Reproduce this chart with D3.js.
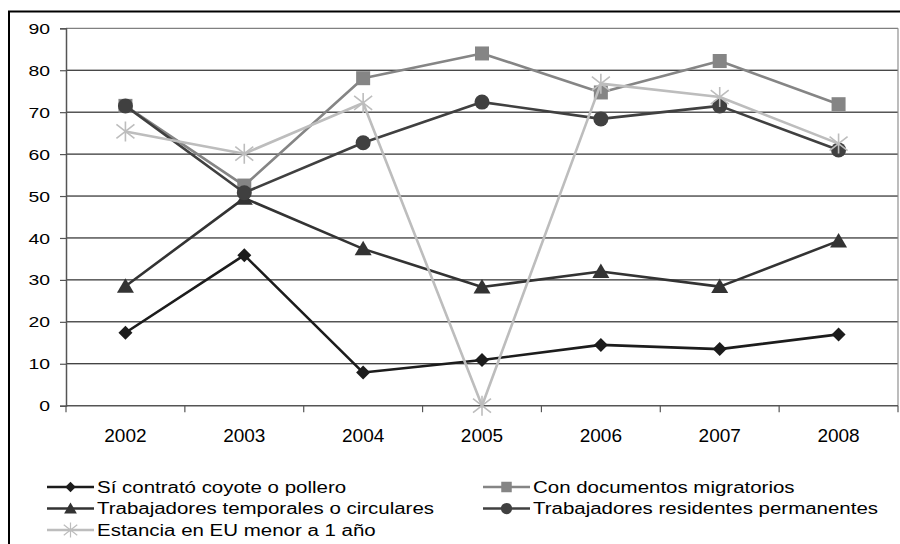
<html>
<head>
<meta charset="utf-8">
<script src="https://cdn.jsdelivr.net/npm/d3@7/dist/d3.min.js"></script>
<style>
  body { margin: 0; background: #fff; }
  svg { display: block; font-family: "Liberation Sans", Arial, sans-serif; }
</style>
</head>
<body>
<svg id="chart"></svg>
<script>
// categories and series
var years = ["2002", "2003", "2004", "2005", "2006", "2007", "2008"];
var yTicks = [0, 10, 20, 30, 40, 50, 60, 70, 80, 90];

var coyote      = [17.4, 35.9, 7.9, 10.9, 14.5, 13.5, 17.0];
var documentos  = [71.5, 52.5, 78.1, 84.0, 74.7, 82.2, 71.9];
var temporales  = [28.5, 49.5, 37.4, 28.3, 32.0, 28.4, 39.3];
var residentes  = [71.5, 50.8, 62.7, 72.4, 68.4, 71.5, 61.0];
var estancia    = [65.4, 60.1, 72.2, 0.0, 76.8, 73.6, 62.5];

var seriesNames = [
  "Sí contrató coyote o pollero",
  "Con documentos migratorios",
  "Trabajadores temporales o circulares",
  "Trabajadores residentes permanentes",
  "Estancia en EU menor a 1 año"
];

var series = [
  {name: seriesNames[0], values: coyote,     color: "#1c1c1c", marker: "diamond"},
  {name: seriesNames[1], values: documentos, color: "#858585", marker: "square"},
  {name: seriesNames[2], values: temporales, color: "#333333", marker: "triangle"},
  {name: seriesNames[3], values: residentes, color: "#404040", marker: "circle"},
  {name: seriesNames[4], values: estancia,   color: "#bdbdbd", marker: "star"}
];

var W = 900, H = 544;
var plot = {left: 66, right: 898, top: 28.3, bottom: 405.7};

var svg = d3.select("#chart").attr("width", W).attr("height", H);

svg.append("rect").attr("width", W).attr("height", H).attr("fill", "#fff");

// outer frame (runs off the right and bottom edges)
svg.append("rect")
  .attr("x", 9).attr("y", 11.5)
  .attr("width", 1000).attr("height", 1000)
  .attr("fill", "none").attr("stroke", "#000").attr("stroke-width", 2);

var x = d3.scaleBand().domain(years).range([plot.left, plot.right]).padding(0);
var y = d3.scaleLinear().domain([0, 90]).range([plot.bottom, plot.top]);

// gridlines
svg.append("g").selectAll("line")
  .data(yTicks.filter(function(d){ return d > 0 && d < 90; }))
  .enter().append("line")
  .attr("x1", plot.left).attr("x2", plot.right)
  .attr("y1", function(d){ return y(d); })
  .attr("y2", function(d){ return y(d); })
  .attr("stroke", "#000").attr("stroke-width", 1);

// plot border top/right (gray)
svg.append("line")
  .attr("x1", plot.left).attr("x2", plot.right)
  .attr("y1", y(90)).attr("y2", y(90))
  .attr("stroke", "#808080").attr("stroke-width", 1.2);
svg.append("line")
  .attr("x1", plot.right).attr("x2", plot.right)
  .attr("y1", y(90)).attr("y2", y(0))
  .attr("stroke", "#909090").attr("stroke-width", 1.2);

// y axis
var yAxis = d3.axisLeft(y).tickValues(yTicks).tickSize(6).tickFormat("");
var gY = svg.append("g").attr("transform", "translate(" + plot.left + ",0)").call(yAxis);
gY.select(".domain").attr("stroke", "#555").attr("stroke-width", 1.5);
gY.selectAll(".tick line").attr("stroke", "#555").attr("stroke-width", 1.2);

svg.append("g").selectAll("text")
  .data(yTicks).enter().append("text")
  .attr("transform", function(d){ return "translate(50," + y(d) + ") scale(1.25,1)"; })
  .attr("text-anchor", "end")
  .attr("dy", "0.36em")
  .attr("font-size", "15.5px")
  .attr("fill", "#000")
  .text(function(d){ return d; });

// x axis
svg.append("line")
  .attr("x1", plot.left).attr("x2", plot.right)
  .attr("y1", y(0)).attr("y2", y(0))
  .attr("stroke", "#555").attr("stroke-width", 1.5);

var bounds = years.map(function(d){ return x(d); }).concat([plot.right]);
svg.append("g").selectAll("line")
  .data(bounds).enter().append("line")
  .attr("x1", function(d){ return d; }).attr("x2", function(d){ return d; })
  .attr("y1", y(0)).attr("y2", y(0) + 6.5)
  .attr("stroke", "#555").attr("stroke-width", 1.2);

svg.append("g").selectAll("text")
  .data(years).enter().append("text")
  .attr("x", function(d){ return x(d) + x.bandwidth() / 2; })
  .attr("y", 442)
  .attr("text-anchor", "middle")
  .attr("font-size", "19px")
  .attr("fill", "#000")
  .text(function(d){ return d; });

// markers
function drawMarker(g, type, color) {
  if (type === "diamond") {
    g.append("path").attr("d", "M0,-7L7,0L0,7L-7,0Z").attr("fill", color);
  } else if (type === "square") {
    g.append("rect").attr("x", -7).attr("y", -7).attr("width", 14).attr("height", 14).attr("fill", color);
  } else if (type === "triangle") {
    g.append("path").attr("d", "M0,-8L8.5,6.5L-8.5,6.5Z").attr("fill", color);
  } else if (type === "circle") {
    g.append("circle").attr("r", 7.5).attr("fill", color);
  } else if (type === "star") {
    g.append("path")
      .attr("d", "M0,-10L0,10M-9,-7L9,7M-9,7L9,-7")
      .attr("stroke", color).attr("stroke-width", 1.6).attr("fill", "none");
  }
}

var line = d3.line()
  .x(function(d, i){ return x(years[i]) + x.bandwidth() / 2; })
  .y(function(d){ return y(d); });

series.forEach(function(s) {
  var g = svg.append("g");
  g.append("path")
    .attr("d", line(s.values))
    .attr("fill", "none")
    .attr("stroke", s.color)
    .attr("stroke-width", 2.6)
    .attr("stroke-linejoin", "round");
  s.values.forEach(function(v, i) {
    var m = g.append("g")
      .attr("transform", "translate(" + (x(years[i]) + x.bandwidth() / 2) + "," + y(v) + ")");
    drawMarker(m, s.marker, s.color);
  });
});

// legend
var legendPos = [
  {x: 47, y: 487}, {x: 483, y: 487},
  {x: 47, y: 508.5}, {x: 483, y: 508.5},
  {x: 47, y: 530}
];

series.forEach(function(s, i) {
  var p = legendPos[i];
  var g = svg.append("g").attr("transform", "translate(" + p.x + "," + p.y + ")");
  g.append("line").attr("x1", 0).attr("x2", 47).attr("y1", 0).attr("y2", 0)
    .attr("stroke", s.color).attr("stroke-width", 2.6);
  var m = g.append("g").attr("transform", "translate(23.5,0) scale(0.75)");
  drawMarker(m, s.marker, s.color);
  g.append("text")
    .attr("transform", "translate(50,0) scale(1.28,1)")
    .attr("dy", "0.35em")
    .attr("font-size", "16px")
    .attr("fill", "#000")
    .text(s.name);
});
</script>
</body>
</html>
